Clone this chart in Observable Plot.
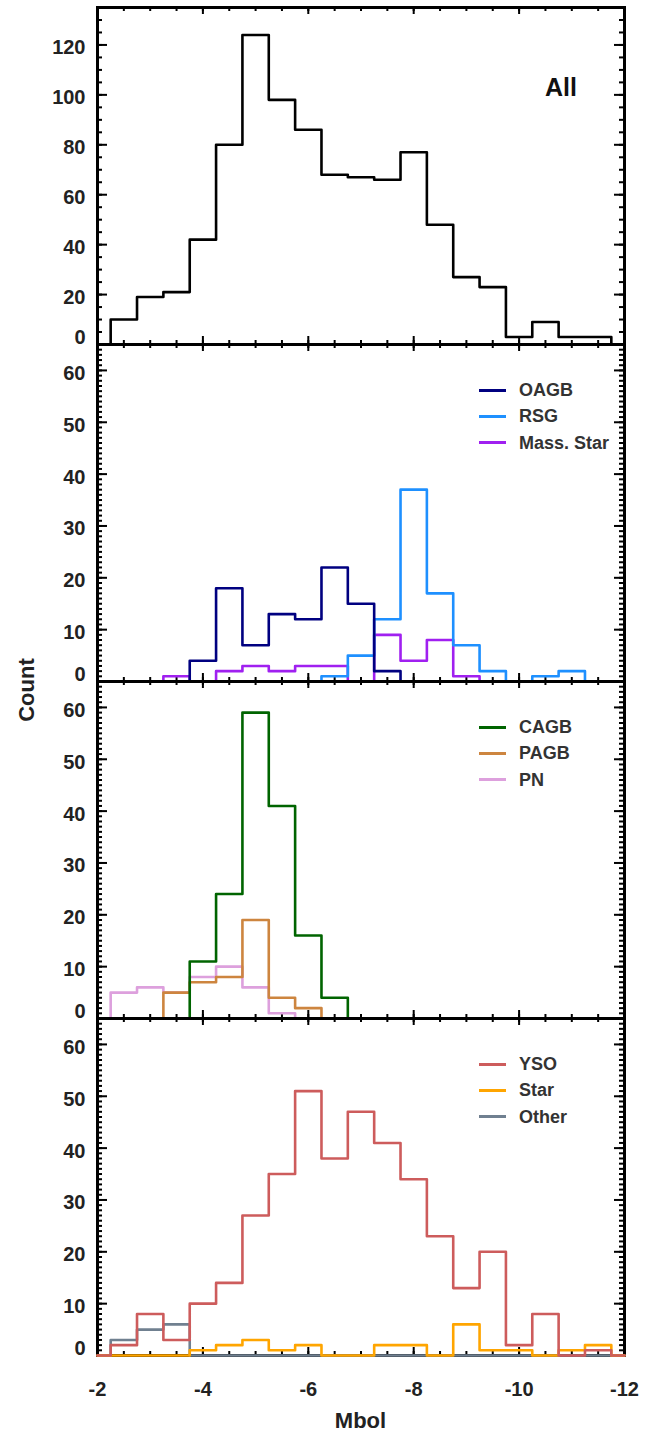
<!DOCTYPE html>
<html><head><meta charset="utf-8">
<script src="https://cdn.jsdelivr.net/npm/d3@7"></script>
<script src="https://cdn.jsdelivr.net/npm/@observablehq/plot@0.6"></script>
<style>
body{margin:0;background:#fff;}
#wrap{position:relative;width:657px;height:1436px;font-family:"Liberation Sans",Arial,Helvetica,sans-serif;font-weight:bold;color:#222;}
#wrap svg{position:absolute;left:0;overflow:visible;background:none;}
.lab{position:absolute;white-space:nowrap;line-height:1;}
.leg{position:absolute;font-size:18px;line-height:1;white-space:nowrap;color:#333;}
.leg span.sw{display:inline-block;width:27px;height:0;border-top:3px solid;vertical-align:middle;margin-right:13px;position:relative;top:-1px;}
</style></head>
<body><div id="wrap"></div>
<script>
// Bin centres (Mbol), 0.5 mag bins
const mbol = [-2.0,-2.5,-3.0,-3.5,-4.0,-4.5,-5.0,-5.5,-6.0,-6.5,-7.0,-7.5,-8.0,-8.5,-9.0,-9.5,-10.0,-10.5,-11.0,-11.5,-12.0];
// Panel 1
const allCounts  = [0,10,19,21,42,80,124,98,86,68,67,66,77,48,27,23,3,9,3,3,0];
// Panel 2
const oagb       = [0,0,0,0,4,18,7,13,12,22,15,2,0,0,0,0,0,0,0,0,0];
const rsg        = [0,0,0,0,0,0,0,0,0,1,5,12,37,17,7,2,0,1,2,0,0];
const massStar   = [0,0,0,1,0,2,3,2,3,3,0,9,4,8,1,0,0,0,0,0,0];
// Panel 3
const cagb       = [0,0,0,0,11,24,59,41,16,4,0,0,0,0,0,0,0,0,0,0,0];
const pagb       = [0,0,0,5,7,8,19,4,2,0,0,0,0,0,0,0,0,0,0,0,0];
const pn         = [0,5,6,5,8,10,6,1,0,0,0,0,0,0,0,0,0,0,0,0,0];
// Panel 4
const yso        = [0,2,8,3,10,14,27,35,51,38,47,41,34,23,13,20,2,8,0,1,0];
const star       = [0,0,0,0,1,2,3,1,2,0,0,2,2,0,6,1,1,0,1,2,0];
const other      = [0,3,5,6,0,0,0,0,0,0,0,0,0,0,0,0,0,0,0,0,0];

// Tick labels
const xTickLabels = [-2,-4,-6,-8,-10,-12];
const yTicksAll = [0,20,40,60,80,100,120];
const yTicksSub = [0,10,20,30,40,50,60];

const panels = [
  {yMax:135, major:yTicksAll, minorStep:5, series:[{name:"All", v:allCounts, c:"#000000"}], legend:false},
  {yMax:65, major:yTicksSub, minorStep:1, series:[{name:"OAGB", v:oagb, c:"#000080"},{name:"RSG", v:rsg, c:"#1E90FF"},{name:"Mass. Star", v:massStar, c:"#A020F0"}], legend:true},
  {yMax:65, major:yTicksSub, minorStep:1, series:[{name:"CAGB", v:cagb, c:"#006400"},{name:"PAGB", v:pagb, c:"#CD853F"},{name:"PN", v:pn, c:"#DDA0DD"}], legend:true},
  {yMax:65, major:yTicksSub, minorStep:1, series:[{name:"YSO", v:yso, c:"#CD5C5C"},{name:"Star", v:star, c:"#FFA500"},{name:"Other", v:other, c:"#708090"}], legend:true}
];

const W = 657, ML = 97, MR = 33, PH = 337;
const PW = W - ML - MR;
const panelTops = [7, 344, 681, 1018];
const xMinor = d3.range(-2, -12.01, -0.5);
const wrap = document.getElementById("wrap");
const fmt = d => String(d);

function stepPoints(vals) {
  const lo = -12, hi = -2;
  const clampX = x => Math.max(lo, Math.min(hi, x));
  const pts = mbol.map((c, i) => ({x: clampX(c + 0.25), y: vals[i]}));
  pts.push({x: clampX(mbol[mbol.length - 1] - 0.25), y: vals[vals.length - 1]});
  return pts;
}

panels.forEach((p, k) => {
  const last = k === panels.length - 1;
  const mt = 10, mb = last ? 70 : 10;
  const yMinor = d3.range(0, p.yMax + 0.001, p.minorStep);
  const yMajor = p.major;
  const marks = [];
  // frame
  marks.push(Plot.frame({stroke:"#000", strokeWidth:3}));
  // x ticks (inward, bottom and top)
  marks.push(Plot.tickX(xMinor, {x:d=>d, stroke:"#000", strokeWidth:2, insetTop:PH-4}));
  marks.push(Plot.tickX(xMinor, {x:d=>d, stroke:"#000", strokeWidth:2, insetBottom:PH-4}));
  marks.push(Plot.tickX(xTickLabels, {x:d=>d, stroke:"#000", strokeWidth:2, insetTop:PH-8}));
  marks.push(Plot.tickX(xTickLabels, {x:d=>d, stroke:"#000", strokeWidth:2, insetBottom:PH-7}));
  // y ticks (inward, left and right)
  marks.push(Plot.tickY(yMinor, {y:d=>d, stroke:"#000", strokeWidth:2, insetRight:PW-5}));
  marks.push(Plot.tickY(yMinor, {y:d=>d, stroke:"#000", strokeWidth:2, insetLeft:PW-5}));
  marks.push(Plot.tickY(yMajor, {y:d=>d, stroke:"#000", strokeWidth:2, insetRight:PW-10}));
  marks.push(Plot.tickY(yMajor, {y:d=>d, stroke:"#000", strokeWidth:2, insetLeft:PW-10}));
  // histogram outlines (drawn over the frame, last legend entry first)
  p.series.slice().reverse().forEach(s => {
    marks.push(Plot.line(stepPoints(s.v), {x:"x", y:"y", curve:"step-after", stroke:s.c, strokeWidth:2.6}));
  });
  // y tick labels
  marks.push(Plot.axisY(yMajor.filter(d => d !== 0), {tickSize:0, tickPadding:12, label:null, dy:3, tickFormat:fmt}));
  marks.push(Plot.axisY([0], {tickSize:0, tickPadding:12, label:null, dy:-7, tickFormat:fmt}));
  if (last) {
    marks.push(Plot.axisX(xTickLabels, {tickSize:0, tickPadding:26, label:null, tickFormat:fmt}));
  }
  const svg = Plot.plot({
    width: W,
    height: PH + mt + mb,
    marginLeft: ML, marginRight: MR, marginTop: mt, marginBottom: mb,
    x: {domain:[-2,-12], axis:null},
    y: {domain:[0,p.yMax], axis:null},
    style: {fontSize:"20px", fontWeight:"bold", fontFamily:"'Liberation Sans', Arial, Helvetica, sans-serif", color:"#222", background:"none", overflow:"visible"},
    marks
  });
  svg.style.top = (panelTops[k] - mt) + "px";
  wrap.appendChild(svg);

  if (p.legend) {
    p.series.forEach((s, i) => {
      const d = document.createElement("div");
      d.className = "leg";
      d.style.left = "479px";
      d.style.top = (panelTops[k] + 46 + i * 26.3 - 9) + "px";
      d.innerHTML = `<span class="sw" style="border-color:${s.c}"></span>${s.name}`;
      wrap.appendChild(d);
    });
  }
});

// Panel label "All"
const all = document.createElement("div");
all.className = "lab";
all.style.cssText = "left:545px;top:75px;font-size:25px;color:#111;";
all.textContent = "All";
wrap.appendChild(all);

// Axis titles
const mbl = document.createElement("div");
mbl.className = "lab";
mbl.style.cssText = "top:1410px;font-size:22px;color:#222;transform:translateX(-50%);";
mbl.style.left = (ML + PW/2) + "px";
mbl.textContent = "Mbol";
wrap.appendChild(mbl);

const ct = document.createElement("div");
ct.className = "lab";
ct.style.cssText = "left:27px;top:690px;font-size:22px;color:#222;transform:translate(-50%,-50%) rotate(-90deg);";
ct.textContent = "Count";
wrap.appendChild(ct);
</script>
</body></html>
